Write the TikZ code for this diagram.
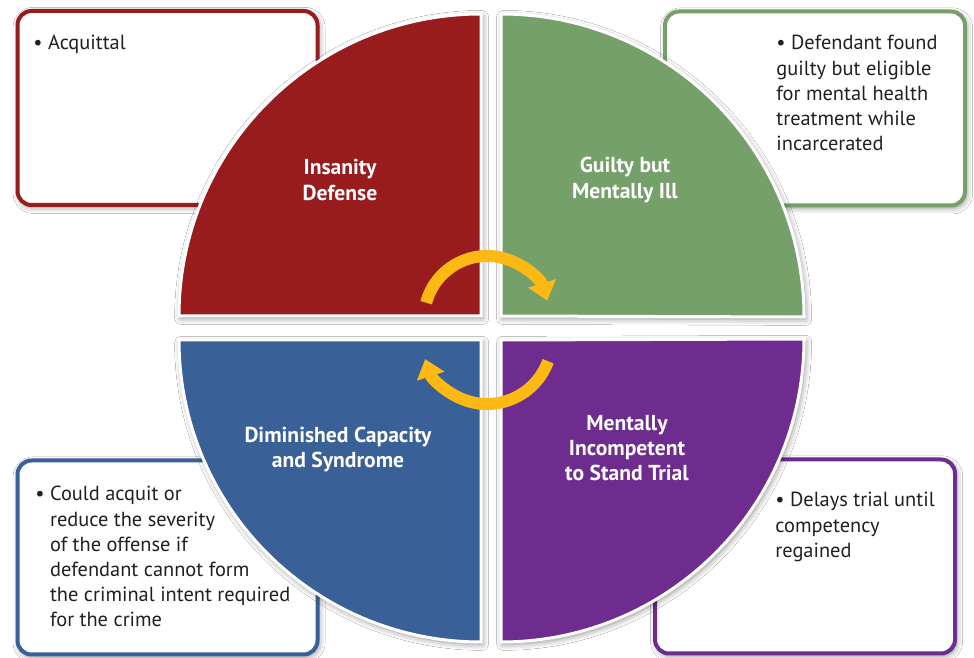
\documentclass[tikz,border=0pt]{standalone}
\usepackage{fontspec}
\setmainfont{PT Sans}
\usetikzlibrary{shapes,arrows.meta,positioning,calc,shadows.blur}
\definecolor{insred}{RGB}{152,27,30}
\definecolor{gbmgreen}{RGB}{117,160,106}
\definecolor{dimblue}{RGB}{58,96,152}
\definecolor{incpurple}{RGB}{110,44,142}
\definecolor{cycleyellow}{RGB}{253,185,19}
\definecolor{textgray}{RGB}{35,31,32}
\newcommand{\hangbul}{\phantom{\textbullet\ }}

\begin{document}
\begin{tikzpicture}[x=0.5pt, y=0.5pt,
    softshadow/.style={blur shadow={shadow xshift=0.8pt, shadow yshift=-1.2pt, shadow blur radius=3pt, shadow opacity=45}},
    infobox/.style={rectangle, draw=#1, line width=2pt, fill=white, rounded corners=7pt, softshadow, minimum width=150pt, minimum height=97pt},
    infotext/.style={anchor=north west, inner sep=0pt, align=left, text=textgray, font=\fontsize{10.2}{12.6}\selectfont},
    quarter/.style={fill=#1, draw=white, line width=1.5pt, softshadow},
    label/.style={align=center, text=white, font=\fontsize{10.8}{12.6}\selectfont\bfseries},
    cycle/.style={draw=cycleyellow, line width=6pt, -{Triangle[width=14pt, length=9pt]}}
  ]
  \useasboundingbox[fill=white] (0,0) rectangle (974,658);

  % side boxes
  \node[infobox=insred] (insbox) at (167.5,550) {};
  \node[infobox=gbmgreen] (gbmbox) at (815,549.5) {};
  \node[infobox=dimblue] (dimbox) at (167.5,100.5) {};
  \node[infobox=incpurple] (incbox) at (805,101.5) {};

  \node[infotext] (instext) at (33,623) {\textbullet\ Acquittal};
  \node[infotext] (gbmtext) at (776,623) {\textbullet\ Defendant found\\guilty but eligible\\for mental health\\treatment while\\incarcerated};
  \node[infotext] (dimtext) at (35,172) {\textbullet\ Could acquit or\\\hangbul reduce the severity\\\hangbul of the offense if\\\hangbul defendant cannot form\\\hangbul the criminal intent required\\\hangbul for the crime};
  \node[infotext] (inctext) at (775,166) {\textbullet\ Delays trial until\\competency\\regained};

  % quarters of the circle
  \path[quarter=insred] (481,342) -- (179,342) arc[start angle=180, end angle=90, radius=302] -- cycle;
  \path[quarter=gbmgreen] (501,342) -- (501,644) arc[start angle=90, end angle=0, radius=303] -- cycle;
  \path[quarter=dimblue] (481,318) -- (179,318) arc[start angle=180, end angle=270, radius=302] -- cycle;
  \path[quarter=incpurple] (501,318) -- (501,16) arc[start angle=270, end angle=360, radius=303] -- cycle;

  % cycle arrows
  \coordinate (topc) at (487,339);
  \coordinate (botc) at (487,319);
  \draw[cycle] ($(topc)+(165:63)$) arc[start angle=165, end angle=17, radius=63];
  \draw[cycle] ($(botc)+(-20:65)$) arc[start angle=-20, end angle=-162, radius=65];

  \node[label] (inslabel) at (340,478) {Insanity\\Defense};
  \node[label] (gbmlabel) at (625,478) {Guilty but\\Mentally Ill};
  \node[label] (dimlabel) at (338,208.5) {Diminished Capacity\\and Syndrome};
  \node[label] (inclabel) at (627,210) {Mentally\\Incompetent\\to Stand Trial};
\end{tikzpicture}
\end{document}
